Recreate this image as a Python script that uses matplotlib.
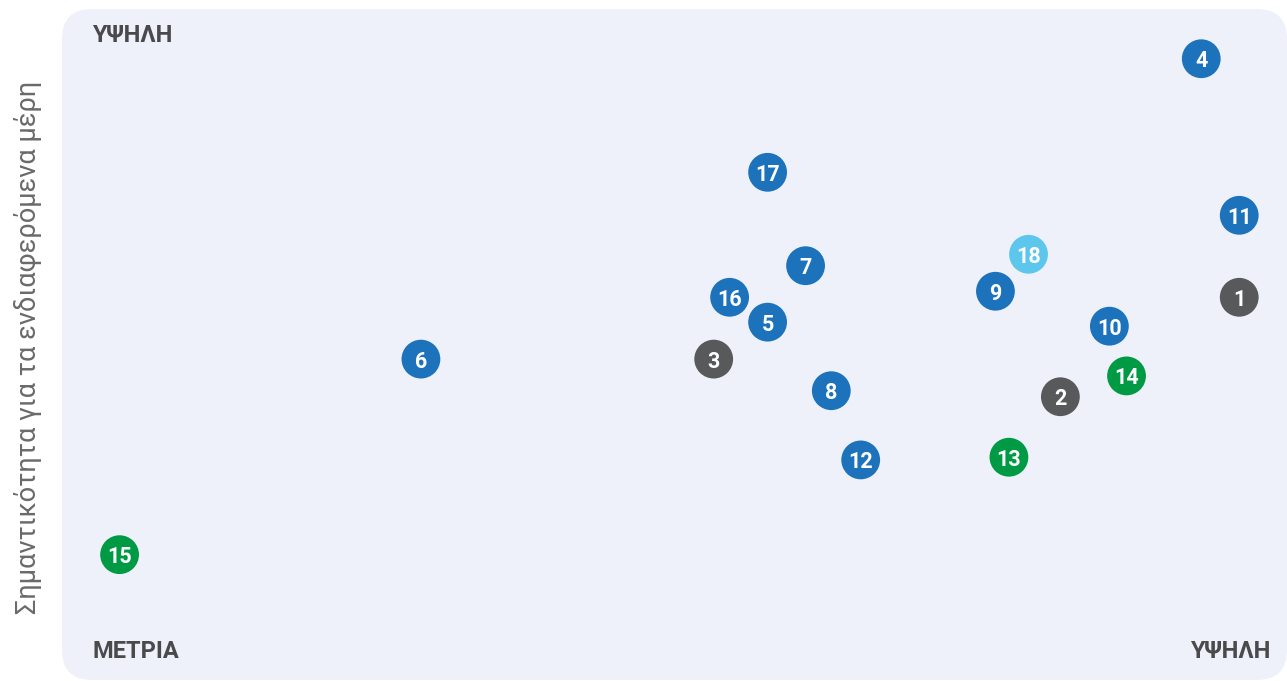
import matplotlib.pyplot as plt
from matplotlib.patches import FancyBboxPatch

# issue id, position on the two axes (0-10 scale), group
ids = [1, 2, 3, 4, 5, 6, 7, 8, 9, 10, 11, 12, 13, 14, 15, 16, 17, 18]
impact = [9.61, 8.15, 5.32, 9.30, 5.76, 2.93, 6.07, 6.28, 7.62, 8.55,
          9.61, 6.52, 7.73, 8.69, 0.47, 5.45, 5.76, 7.89]
stakeholder = [5.71, 4.23, 4.79, 9.26, 5.34, 4.79, 6.18, 4.32, 5.80, 5.28,
               6.93, 3.29, 3.33, 4.54, 1.88, 5.71, 7.57, 6.35]
group = ["gov", "gov", "gov", "soc", "soc", "soc", "soc", "soc", "soc", "soc",
         "soc", "soc", "env", "env", "env", "soc", "soc", "eco"]

colors = {"gov": "#58595B", "soc": "#1D72BC", "env": "#009A44", "eco": "#5DC6EC"}

W, H = 1287, 681
fig = plt.figure(figsize=(W / 100, H / 100), dpi=100)

panel = FancyBboxPatch((62 / 100, 1 / 100), 1225 / 100, 671 / 100,
                       boxstyle="round,pad=0,rounding_size=0.3",
                       transform=fig.dpi_scale_trans, facecolor="#EEF1F9",
                       edgecolor="none", zorder=-5)
fig.patches.append(panel)

ax = fig.add_axes([62 / W, 0, 1225 / W, 672 / H])
ax.set_xlim(0, 10)
ax.set_ylim(0, 10)
ax.axis("off")

ax.scatter(impact, stakeholder, s=780, c=[colors[g] for g in group],
           edgecolors="none", zorder=2)
for i, x, y in zip(ids, impact, stakeholder):
    ax.text(x, y, str(i), color="white", fontsize=15.5, fontweight="bold",
            family="Roboto", ha="center", va="center_baseline", zorder=3)

lab = dict(color="#4A4A4C", fontsize=17, fontweight="bold", family="Roboto")
fig.text(92 / W, 1 - 35 / H, "ΥΨΗΛΗ", ha="left", va="center", **lab)
fig.text(92 / W, 1 - 652 / H, "ΜΕΤΡΙΑ", ha="left", va="center", **lab)
fig.text(1270 / W, 1 - 651 / H, "ΥΨΗΛΗ", ha="right", va="center", **lab)

fig.text(28 / W, 1 - 347 / H, "Σημαντικότητα για τα ενδιαφερόμενα μέρη",
         rotation=90, ha="center", va="center", color="#6A6A6A",
         fontsize=19.5, fontweight="normal", family="Roboto")

fig.savefig("out.png", dpi=100)
